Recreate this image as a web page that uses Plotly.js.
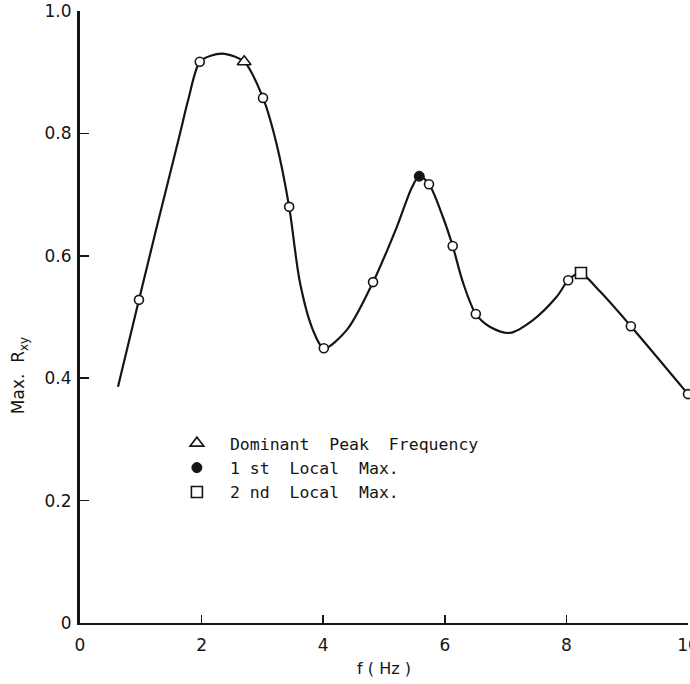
<!DOCTYPE html>
<html>
<head>
<meta charset="utf-8">
<script src="https://cdn.plot.ly/plotly-3.0.1.min.js"></script>
<style>
  html, body { margin: 0; padding: 0; background: #ffffff; }
  #chart { width: 690px; height: 684px; }
</style>
</head>
<body>
<div id="chart"></div>
<script>
// Smooth response curve of Max. Rxy against frequency (Hz)
const curveF = [0.625, 0.97, 1.25, 1.645, 1.78, 1.97, 2.15, 2.38, 2.70, 3.01, 3.24, 3.44, 3.62, 3.83, 4.01, 4.39, 4.82, 5.21, 5.46, 5.58, 5.74, 5.97, 6.13, 6.30, 6.51, 6.74, 7.07, 7.45, 7.84, 8.03, 8.22, 8.55, 9.06, 10.0];
const curveR = [0.386, 0.528, 0.642, 0.80, 0.855, 0.917, 0.927, 0.93, 0.917, 0.858, 0.78, 0.68, 0.555, 0.479, 0.449, 0.479, 0.557, 0.647, 0.712, 0.73, 0.717, 0.663, 0.616, 0.556, 0.505, 0.484, 0.474, 0.495, 0.533, 0.56, 0.572, 0.542, 0.485, 0.374];

// Measured points (open circles)
const measF = [0.97, 1.97, 3.01, 3.44, 4.01, 4.82, 5.74, 6.13, 6.51, 8.03, 9.06, 10.0];
const measR = [0.528, 0.917, 0.858, 0.68, 0.449, 0.557, 0.717, 0.616, 0.505, 0.56, 0.485, 0.374];

// Highlighted maxima
const domF = [2.70],  domR = [0.917];
const firstF = [5.58], firstR = [0.73];
const secondF = [8.24], secondR = [0.572];

const legendNames = ['Dominant  Peak  Frequency', '1 st  Local  Max.', '2 nd  Local  Max.'];

const xTickVals = [0, 2, 4, 6, 8, 10];
const xTickText = ['0', '2', '4', '6', '8', '10'];
const yTickVals = [0, 0.2, 0.4, 0.6, 0.8, 1.0];
const yTickText = ['0', '0.2', '0.4', '0.6', '0.8', '1.0'];

const ink = '#151515';
const baseFont = 'DejaVu Sans, Liberation Sans, sans-serif';
const letterFont = 'DejaVu Sans Mono, Liberation Mono, monospace';

const traces = [
  {
    x: curveF, y: curveR, mode: 'lines', type: 'scatter', cliponaxis: false,
    line: { color: ink, width: 2.2, shape: 'spline', smoothing: 0.85 },
    showlegend: false, hoverinfo: 'skip'
  },
  {
    x: measF, y: measR, mode: 'markers', type: 'scatter', cliponaxis: false,
    marker: { symbol: 'circle', size: 9, color: '#ffffff', line: { color: ink, width: 1.6 } },
    showlegend: false
  },
  {
    x: domF, y: domR, mode: 'markers', type: 'scatter', name: legendNames[0], cliponaxis: false,
    marker: { symbol: 'triangle-up', size: 12, color: '#ffffff', line: { color: ink, width: 1.6 } }
  },
  {
    x: firstF, y: firstR, mode: 'markers', type: 'scatter', name: legendNames[1], cliponaxis: false,
    marker: { symbol: 'circle', size: 10, color: ink, line: { color: ink, width: 1 } }
  },
  {
    x: secondF, y: secondR, mode: 'markers', type: 'scatter', name: legendNames[2], cliponaxis: false,
    marker: { symbol: 'square', size: 11, color: '#ffffff', line: { color: ink, width: 1.6 } }
  }
];

const layout = {
  width: 690, height: 684,
  margin: { l: 80, r: 2, t: 11, b: 61 },
  paper_bgcolor: '#ffffff', plot_bgcolor: '#ffffff',
  font: { family: baseFont, color: ink },
  showlegend: true,
  legend: {
    x: 0.138, y: 0.322, xanchor: 'left', yanchor: 'top',
    bgcolor: 'rgba(0,0,0,0)', borderwidth: 0,
    font: { family: letterFont, size: 16.5, color: ink },
    tracegroupgap: 0, itemwidth: 56
  },
  xaxis: {
    range: [0, 10], tickvals: xTickVals, ticktext: xTickText,
    ticks: 'inside', ticklen: 8, tickwidth: 1.5, tickcolor: ink,
    showline: true, linewidth: 2, linecolor: ink,
    showgrid: false, zeroline: false, ticklabeloverflow: 'allow',
    tickfont: { family: baseFont, size: 17, color: ink }, ticklabelstandoff: 6,
    title: { text: 'f ( Hz )', font: { family: baseFont, size: 16, color: ink }, standoff: 8 }
  },
  yaxis: {
    range: [0, 1.0], tickvals: yTickVals, ticktext: yTickText,
    ticks: 'inside', ticklen: 9, tickwidth: 1.5, tickcolor: ink,
    showline: true, linewidth: 3, linecolor: ink,
    showgrid: false, zeroline: false, ticklabeloverflow: 'allow',
    tickfont: { family: baseFont, size: 17, color: ink }, ticklabelstandoff: 2
  },
  annotations: [
    {
      text: 'Max.  R<sub>xy</sub>', xref: 'paper', yref: 'paper',
      x: -0.1, y: (623 - 376) / 612, xanchor: 'center', yanchor: 'middle',
      textangle: -90, showarrow: false,
      font: { family: baseFont, size: 17, color: ink }
    }
  ]
};

Plotly.newPlot('chart', traces, layout, { displayModeBar: false, staticPlot: true });
</script>
</body>
</html>
